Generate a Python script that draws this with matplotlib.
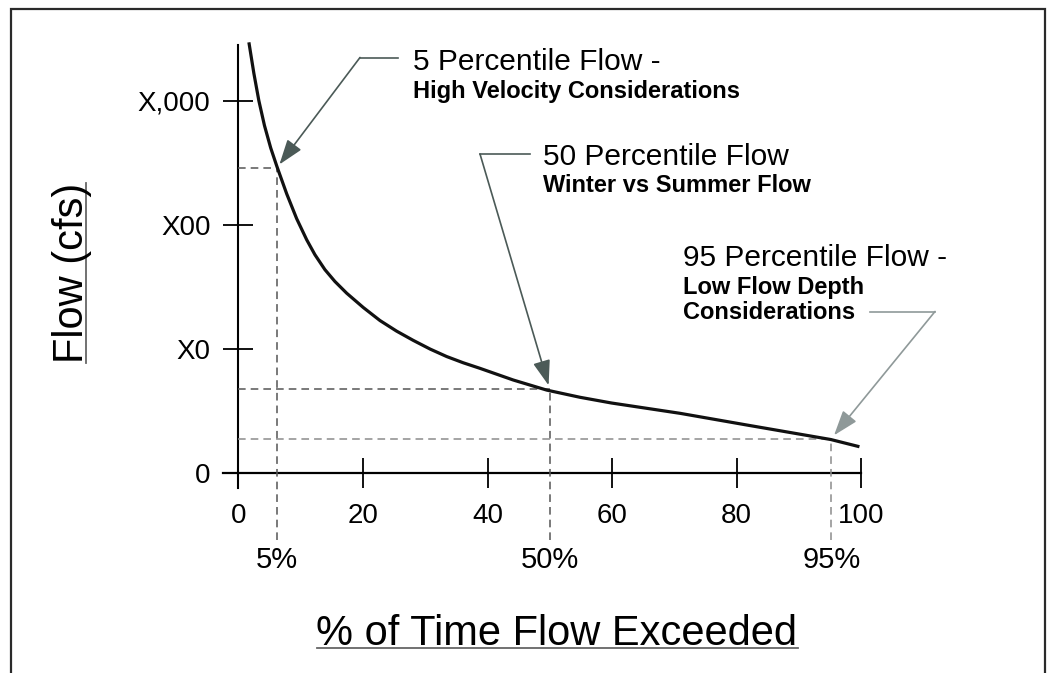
import matplotlib
matplotlib.use("Agg")
import matplotlib.pyplot as plt
from matplotlib.patches import Rectangle
from matplotlib.lines import Line2D

W, H = 1047, 673
plt.rcParams['font.family'] = ['Liberation Sans', 'DejaVu Sans']

# flow duration curve
# flow is in tick units: 0 -> "0", 1 -> "X0", 2 -> "X00", 3 -> "X,000"
pct_exceeded = [1.7, 2.5, 3.3, 4.2, 5.2, 6.2, 7.77, 9.37, 10.98, 12.3, 13.9, 15.5,
                17.4, 20.06, 22.74, 25.4, 28.09, 30.8, 33.45, 36.1, 38.8, 44.14,
                49.5, 54.85, 59.9, 70.9, 81.6, 95.1, 99.7]
flow = [3.47, 3.22, 3.0, 2.8, 2.62, 2.47, 2.25, 2.05, 1.88, 1.76, 1.64, 1.545,
        1.45, 1.335, 1.23, 1.145, 1.07, 1.0, 0.94, 0.89, 0.845, 0.751,
        0.670, 0.612, 0.566, 0.483, 0.389, 0.272, 0.214]

x_ticks = [0, 20, 40, 60, 80, 100]
y_ticks = [0, 1, 2, 3]
y_tick_labels = ["0", "X0", "X00", "X,000"]

# the three marked percentiles (where the guides sit in the drawing)
mark_x = [6.2, 50.0, 95.2]
mark_y = [2.46, 0.676, 0.28]
mark_labels = ["5%", "50%", "95%"]
mark_titles = ["5 Percentile Flow -", "50 Percentile Flow", "95 Percentile Flow -"]
mark_notes = [["High Velocity Considerations"], ["Winter vs Summer Flow"],
              ["Low Flow Depth", "Considerations"]]

# layout, in pixels from top left
title_pos = [(413, 70), (543, 165), (683, 266.5)]
note_pos = [(413, 98), (543, 191.5), (683, 294)]
note_step = 25
# leader: (start x, start y) of the horizontal piece, then the bend point
leader_start = [(398, 57.5), (530, 154), (870, 311.5)]
leader_bend = [(360, 57.5), (480, 154), (935, 311.5)]
dark_guide = ['#555555', '#555555', '#8c8c8c']
arrow_col = ['#4b5a57', '#4b5a57', '#8f9999']


def fx(px):
    return px / W


def fy(py):
    return 1 - py / H


fig = plt.figure(figsize=(W / 100, H / 100), dpi=100)
ax = fig.add_axes([0, 0, 1, 1])
ax.patch.set_alpha(0)

# pixel -> data mapping of the drawing: x0 at 238.3px, 6.23 px per %, y0 at 473.3px, 124.2 px per unit
ax.set_xlim(-238.3 / 6.23, (W - 238.3) / 6.23)
ax.set_ylim((473.3 - H) / 124.2, 473.3 / 124.2)

for s in ['top', 'right']:
    ax.spines[s].set_visible(False)
ax.spines['left'].set_position(('data', 0))
ax.spines['bottom'].set_position(('data', 0))
ax.spines['left'].set_bounds(-0.12, 3.45)
ax.spines['bottom'].set_bounds(-2.5, 100)
ax.spines['left'].set_linewidth(1.5)
ax.spines['bottom'].set_linewidth(1.6)

ax.set_xticks(x_ticks)
ax.set_xticklabels([str(v) for v in x_ticks])
ax.set_yticks(y_ticks)
ax.set_yticklabels(y_tick_labels)
ax.tick_params(axis='both', direction='inout', length=21.6, width=1.4, labelsize=20, color='#111111')
ax.tick_params(axis='x', pad=10.4)
ax.tick_params(axis='y', pad=9.2)

# curve
ax.plot(pct_exceeded, flow, color='#111111', lw=2.3, solid_capstyle='butt',
        solid_joinstyle='round', clip_on=False, zorder=5)

# dashed guides + percent labels
for i in range(3):
    ax.hlines(mark_y[i], 0, mark_x[i], colors=dark_guide[i], lw=1.1, linestyles=(0, (5, 3.3)), zorder=3)
    ax.vlines(mark_x[i], (473.3 - 540) / 124.2, mark_y[i], colors=dark_guide[i], lw=1.1,
              linestyles=(0, (5, 3.3)), zorder=3)
    fig.text(fx(238.3 + 6.23 * mark_x[i]), fy(568), mark_labels[i], fontsize=21,
             ha='center', va='baseline')

# callouts
for i in range(3):
    tx, ty = title_pos[i]
    fig.text(fx(tx), fy(ty), mark_titles[i], fontsize=21.5, ha='left', va='baseline')
    nx, ny = note_pos[i]
    for k, line in enumerate(mark_notes[i]):
        fig.text(fx(nx), fy(ny + k * note_step), line, fontsize=17, fontweight='bold',
                 ha='left', va='baseline')
    sx, sy = leader_start[i]
    bx, by = leader_bend[i]
    fig.add_artist(Line2D([fx(sx), fx(bx)], [fy(sy), fy(by)], transform=fig.transFigure,
                          color=arrow_col[i], lw=1.2))
    ax.annotate('', xy=(mark_x[i], mark_y[i]), xycoords='data',
                xytext=(bx, H - by), textcoords='figure pixels',
                arrowprops=dict(arrowstyle='-|>,head_length=1.1,head_width=0.38',
                                mutation_scale=14, color=arrow_col[i], lw=1.2,
                                shrinkA=0, shrinkB=3), zorder=6)

# axis titles, underlined
xt = fig.text(fx(557), fy(645), "% of Time Flow Exceeded", fontsize=30, ha='center', va='baseline')
yt = fig.text(fx(83), fy(273), "Flow (cfs)", fontsize=30, rotation=90, rotation_mode='anchor',
              ha='center', va='baseline')

fig.canvas.draw()
r = fig.canvas.get_renderer()
bb = xt.get_window_extent(r)
fig.add_artist(Line2D([bb.x0 / W, bb.x1 / W], [fy(648), fy(648)], transform=fig.transFigure,
                      color='#666666', lw=1.3))
bb = yt.get_window_extent(r)
fig.add_artist(Line2D([fx(86), fx(86)], [bb.y0 / H, bb.y1 / H], transform=fig.transFigure,
                      color='#666666', lw=1.3))

# scanned page frame
fig.add_artist(Rectangle((fx(11), -0.05), fx(1045) - fx(11), fy(9) + 0.05, transform=fig.transFigure,
                         fill=False, edgecolor='#2a2a2a', lw=1.6))

fig.savefig("out.png", dpi=100)
